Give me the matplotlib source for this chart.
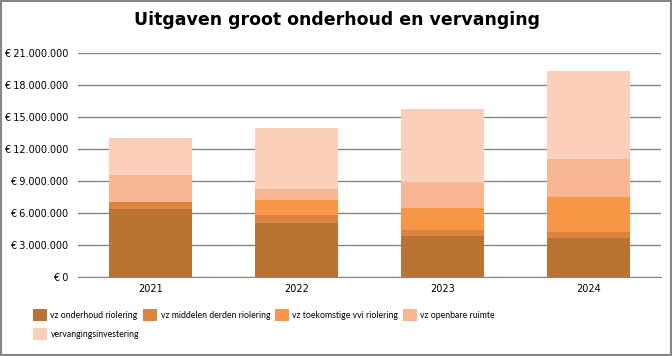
import numpy as np
import matplotlib
matplotlib.use('Agg')
import matplotlib.pyplot as plt
from matplotlib.ticker import FuncFormatter

# Données
jaren = ['2021', '2022', '2023', '2024']
onderhoud_riolering = [6.40e6, 5.03e6, 3.87e6, 3.68e6]
middelen_derden = [0.66e6, 0.75e6, 0.57e6, 0.57e6]
toekomstige_vvi = [0.0, 1.47e6, 2.06e6, 3.28e6]
openbare_ruimte = [2.53e6, 1.03e6, 2.44e6, 3.56e6]
vervangingsinvestering = [3.47e6, 5.72e6, 6.84e6, 8.25e6]

labels = ['vz onderhoud riolering', 'vz middelen derden riolering',
          'vz toekomstige vvi riolering', 'vz openbare ruimte',
          'vervangingsinvestering']
kleuren = ['#BB7334', '#DA843F', '#F79646', '#F9B693', '#FAD0BA']

fig = plt.figure(figsize=(6.72, 3.56), dpi=100)
ax = fig.add_axes([0.116, 0.222, 0.868, 0.628])

x = np.arange(len(jaren))
series = [onderhoud_riolering, middelen_derden, toekomstige_vvi,
          openbare_ruimte, vervangingsinvestering]
bottom = np.zeros(len(jaren))
handles = []
for serie, kleur, lab in zip(series, kleuren, labels):
    b = ax.bar(x, serie, width=0.57, bottom=bottom, color=kleur, label=lab, zorder=3)
    handles.append(b)
    bottom += np.array(serie)

ax.set_xlim(-0.5, 3.5)
ax.set_ylim(0, 21e6)
ax.set_yticks(np.arange(0, 21e6 + 1, 3e6))

def euro(v, pos):
    s = f'{int(round(v)):,}'.replace(',', '.')
    return '€ ' + s

ax.yaxis.set_major_formatter(FuncFormatter(euro))
ax.set_xticks(x)
ax.set_xticklabels(jaren)
ax.tick_params(axis='both', labelsize=7, length=0, pad=7)
ax.tick_params(axis='x', pad=5)
ax.yaxis.grid(True, color='#868686', linewidth=1, zorder=0)
for s in ['top', 'right', 'left']:
    ax.spines[s].set_visible(False)
ax.spines['bottom'].set_color('#868686')

fig.text(0.502, 0.943, 'Uitgaven groot onderhoud en vervanging',
         ha='center', va='center', fontsize=12.5, fontweight='bold')

# Ordre pour que le 5e élément passe sous le premier
volgorde = [0, 4, 1, 2, 3]
leg = fig.legend([handles[i] for i in volgorde], [labels[i] for i in volgorde],
                 ncol=4, loc='upper left', bbox_to_anchor=(0.049, 0.132),
                 frameon=False, prop={'family': 'Lato', 'size': 6.3},
                 handlelength=1.6, handleheight=1.75,
                 handletextpad=0.4, columnspacing=0.5, labelspacing=0.75,
                 borderaxespad=0, borderpad=0)

# Cadre autour du graphique
fig.patches.append(plt.Rectangle((0.0015, 0.003), 0.997, 0.994, transform=fig.transFigure,
                                 fill=False, edgecolor='#868686', linewidth=1.5))

fig.savefig('out.png', dpi=100)
